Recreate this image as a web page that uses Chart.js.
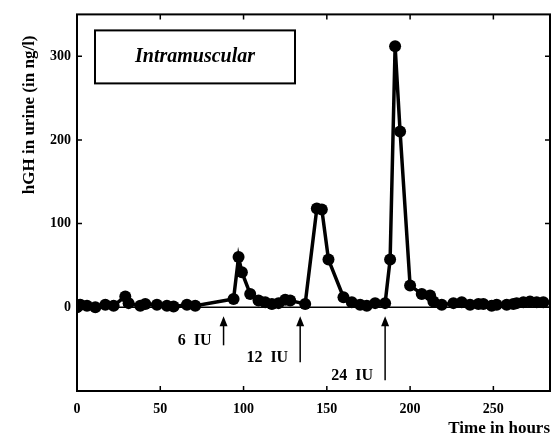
<!DOCTYPE html>
<html>
<head>
<meta charset="utf-8">
<script src="https://cdn.jsdelivr.net/npm/chart.js@4.4.1/dist/chart.umd.min.js"></script>
<style>
html, body { margin: 0; padding: 0; background: #fff; }
#wrap { width: 557px; height: 439px; }
</style>
</head>
<body>
<div id="wrap"><canvas id="hghChart" width="557" height="439"></canvas></div>
<script>
// time after start (h) and hGH concentration (ng/l)
var hours = [0, 2, 6, 11, 17, 22, 29, 31, 38, 41, 48, 54, 58, 66, 71, 94, 97, 99, 104, 109, 113, 117, 121, 125, 128, 137,
    144, 147, 151, 160, 165, 170, 174, 179, 185, 188, 191, 194, 200, 207, 212, 214, 219, 226, 231, 236, 241, 244, 249,
    252, 258, 262, 264, 268, 272, 276, 280];
var hgh = [0, 3, 2, 0, 3, 2, 13, 5, 2, 4, 3, 2, 1, 3, 2, 10, 60, 42, 16, 8, 6, 4, 5, 9, 8, 4,
    118, 117, 57, 12, 6, 3, 2, 5, 5, 57, 312, 210, 26, 16, 14, 7, 3, 5, 6, 3, 4, 4, 2,
    3, 3, 4, 5, 6, 7, 6, 6];
var xTickValues = [0, 50, 100, 150, 200, 250];
var yTickValues = [0, 100, 200, 300];
var doseHours = [88, 134, 185];
var doseLabels = ["6  IU", "12  IU", "24  IU"];
var doseDepth = [38, 55, 73];
var boxLabel = "Intramuscular";
var yTitle = "hGH in urine (in ng/l)";

var serif = "'Liberation Serif', 'DejaVu Serif', serif";

var frame = {
    id: "frame",
    beforeDatasetsDraw: function(chart) {
        var ctx = chart.ctx, a = chart.chartArea, ys = chart.scales.y;
        var y0 = ys.getPixelForValue(0);
        ctx.save();
        ctx.strokeStyle = "#000";
        ctx.lineWidth = 1.5;
        ctx.beginPath();
        ctx.moveTo(a.left, y0);
        ctx.lineTo(a.right, y0);
        ctx.stroke();
        ctx.restore();
    },
    afterDraw: function(chart) {
        var ctx = chart.ctx, a = chart.chartArea, xs = chart.scales.x, ys = chart.scales.y;
        ctx.save();
        ctx.strokeStyle = "#000";
        ctx.fillStyle = "#000";
        ctx.lineWidth = 2;
        ctx.strokeRect(a.left, a.top, a.right - a.left, a.bottom - a.top);
        ctx.lineWidth = 1.5;
        ctx.beginPath();
        xTickValues.forEach(function(v) {
            var px = xs.getPixelForValue(v);
            ctx.moveTo(px, a.bottom); ctx.lineTo(px, a.bottom - 5);
            ctx.moveTo(px, a.top); ctx.lineTo(px, a.top + 5);
        });
        yTickValues.forEach(function(v) {
            var py = ys.getPixelForValue(v);
            ctx.moveTo(a.left, py); ctx.lineTo(a.left + 5, py);
            ctx.moveTo(a.right, py); ctx.lineTo(a.right - 5, py);
        });
        ctx.stroke();

        // y title
        ctx.save();
        ctx.translate(30, ys.getPixelForValue(230));
        ctx.rotate(-Math.PI / 2);
        ctx.font = "bold 17px " + serif;
        ctx.textAlign = "center";
        ctx.textBaseline = "middle";
        ctx.fillText(yTitle, 0, 0);
        ctx.restore();

        // label box
        var bx = a.left + 18, by = a.top + 16, bw = 200, bh = 53;
        ctx.lineWidth = 2;
        ctx.strokeRect(bx, by, bw, bh);
        ctx.font = "italic bold 20px " + serif;
        ctx.textAlign = "center";
        ctx.textBaseline = "middle";
        ctx.fillText(boxLabel, bx + bw / 2, by + bh / 2);

        // dose arrows
        var y0 = ys.getPixelForValue(0);
        ctx.font = "bold 16px " + serif;
        ctx.textAlign = "right";
        doseHours.forEach(function(h, i) {
            var px = xs.getPixelForValue(h), top = y0 + 9, tail = y0 + doseDepth[i];
            ctx.lineWidth = 1.5;
            ctx.beginPath();
            ctx.moveTo(px, tail); ctx.lineTo(px, top + 4);
            ctx.stroke();
            ctx.beginPath();
            ctx.moveTo(px, top); ctx.lineTo(px - 4, top + 10); ctx.lineTo(px + 4, top + 10);
            ctx.closePath();
            ctx.fill();
            ctx.fillText(doseLabels[i], px - 12, tail - 4);
        });
        ctx.restore();
    }
};

var hghChart = new Chart(document.getElementById("hghChart"), {
    type: "line",
    data: {
        datasets: [{
            data: hours.map(function(h, i) { return { x: h, y: hgh[i] }; }),
            borderColor: "#000",
            backgroundColor: "#000",
            borderWidth: 3.5,
            pointRadius: 6,
            pointBorderWidth: 0,
            tension: 0
        }]
    },
    options: {
        responsive: false,
        animation: false,
        layout: { padding: { top: 10, right: 7, left: 0, bottom: 0 } },
        plugins: { legend: { display: false }, tooltip: { enabled: false } },
        scales: {
            x: {
                type: "linear",
                min: 0,
                max: 284,
                afterBuildTicks: function(s) { s.ticks = xTickValues.map(function(v) { return { value: v }; }); },
                afterFit: function(s) { s.height = 48; },
                grid: { display: false, drawTicks: false },
                border: { display: false },
                ticks: { color: "#000", padding: 10, maxRotation: 0, font: { family: serif, size: 14, weight: "bold" } },
                title: { display: true, text: "Time in hours", align: "end", color: "#000",
                    padding: { top: 0, bottom: 0 }, font: { family: serif, size: 17, weight: "bold" } }
            },
            y: {
                min: -100,
                max: 350,
                afterBuildTicks: function(s) { s.ticks = yTickValues.map(function(v) { return { value: v }; }); },
                afterFit: function(s) { s.width = 77; },
                grid: { display: false, drawTicks: false },
                border: { display: false },
                ticks: { color: "#000", padding: 6, font: { family: serif, size: 14, weight: "bold" } },
                title: { display: false }
            }
        }
    },
    plugins: [frame]
});
</script>
</body>
</html>
